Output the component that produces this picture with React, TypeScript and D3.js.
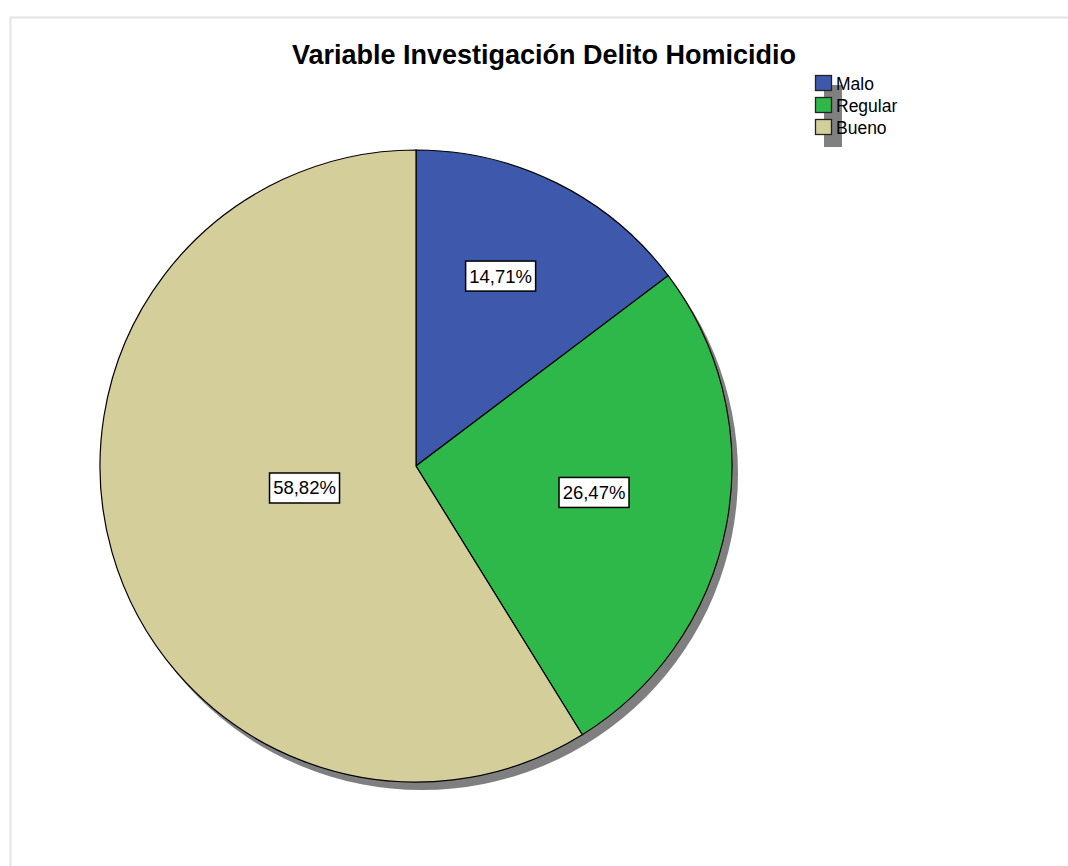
import React from "react"
import * as d3 from "d3"

const categories = ["Malo", "Regular", "Bueno"]
const percents = [14.71, 26.47, 58.82]
const labels = ["14,71%", "26,47%", "58,82%"]
const colors = ["#3e58ab", "#2eb84a", "#d4ce9a"]

const width = 1068
const height = 866
const cx = 416
const cy = 466
const radius = 316

function App() {
  const pie = d3.pie<number>().sort(null).value((d) => d)
  const arcs = pie(percents)
  const arcGen = d3.arc<d3.PieArcDatum<number>>().innerRadius(0).outerRadius(radius)

  // centroid of the circular sector
  const labelPos = (a: d3.PieArcDatum<number>) => {
    const half = (a.endAngle - a.startAngle) / 2
    const mid = (a.startAngle + a.endAngle) / 2
    const dist = (2 * radius * Math.sin(half)) / (3 * half)
    return [dist * Math.sin(mid) - 6, -dist * Math.cos(mid) - 8]
  }

  return (
    <svg
      width={width}
      height={height}
      style={{ position: "absolute", left: 0, top: 0, fontFamily: "Arial, 'Liberation Sans', sans-serif" }}
    >
      <rect x={0} y={0} width={width} height={height} fill="#fff" />
      <rect x={10.5} y={17.5} width={width + 20} height={height + 20} fill="none" stroke="#e3e3e3" strokeWidth={2} />
      <text x={544} y={64} textAnchor="middle" fontSize={27} fontWeight="bold" fill="#000">
        Variable Investigación Delito Homicidio
      </text>

      <g transform={`translate(${cx},${cy})`}>
        <circle cx={6} cy={8} r={radius} fill="#7f7f7f" />
        {arcs.map((a, i) => (
          <path key={categories[i]} d={arcGen(a) || ""} fill={colors[i]} stroke="#000" strokeWidth={1.2} />
        ))}
        {arcs.map((a, i) => {
          const [x, y] = labelPos(a)
          return (
            <g key={"l" + i} transform={`translate(${x},${y})`}>
              <rect x={-35} y={-15} width={70} height={30} fill="#fff" stroke="#000" strokeWidth={1.5} />
              <text x={0} y={6.5} textAnchor="middle" fontSize={18.5} fill="#000">
                {labels[i]}
              </text>
            </g>
          )
        })}
      </g>

      <g transform="translate(815,75)">
        <rect x={9} y={10} width={18} height={62} fill="#808080" />
        {categories.map((c, i) => (
          <g key={c} transform={`translate(0,${i * 22})`}>
            <rect x={0.5} y={0.5} width={16} height={15} fill={colors[i]} stroke="#222" strokeWidth={1.3} />
            <text x={21} y={15} fontSize={17.5} fill="#000">
              {c}
            </text>
          </g>
        ))}
      </g>
    </svg>
  )
}

export default App
